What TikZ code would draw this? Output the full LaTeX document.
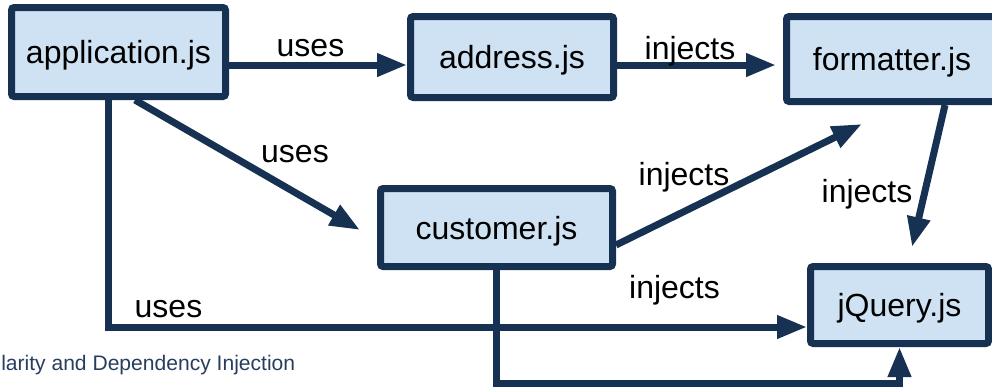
\documentclass[tikz,border=0pt]{standalone}
\usepackage{fontspec}
\setmainfont{Liberation Sans}
\usetikzlibrary{arrows.meta,calc}
\definecolor{navy}{RGB}{22,49,82}
\definecolor{boxfill}{RGB}{207,226,243}
\definecolor{foot}{RGB}{40,62,95}
\tikzset{
  modbox/.style={draw=navy, fill=boxfill, line width=5.25pt, rounded corners=2pt,
    inner sep=0pt, text height=17.5pt, text depth=0pt,
    font=\fontsize{24}{28}\selectfont, text=black},
  conn/.style={draw=navy, line width=5.25pt, -{Triangle[length=22.5pt,width=16.5pt]}},
  lbl/.style={font=\fontsize{24}{28}\selectfont, text=black, anchor=base, inner sep=0pt},
}
\begin{document}
\begin{tikzpicture}[x=0.75pt,y=-0.75pt]
\useasboundingbox (0,0) rectangle (992,387);
\clip (0,0) rectangle (992,387);
% boxes
\node[modbox, minimum width=160.5pt, minimum height=66.75pt] (app) at (118.5,52) {application.js};
\node[modbox, minimum width=152.25pt, minimum height=60.75pt] (addr) at (512,57) {address.js};
\node[modbox, minimum width=158.25pt, minimum height=63.75pt] (fmt) at (892,59) {formatter.js};
\node[modbox, minimum width=174pt, minimum height=58.5pt] (cust) at (496.5,227.5) {customer.js};
\node[modbox, minimum width=133.5pt, minimum height=57.75pt] (jq) at (899.5,305) {jQuery.js};
% free ends
\coordinate (t1) at ($(cust.west)+(-17,2.5)$);
\coordinate (t2) at ($(fmt.south west)+(79,19)$);
\coordinate (t3) at ($(jq.north)+(12.5,-16)$);
% connectors
\draw[conn] (app.east |- 0,65) -- (addr.west |- 0,65);
\draw[conn] (addr.east |- 0,65) -- ($(fmt.west |- 0,65)+(-7,0)$);
\draw[conn] ($(app.south)+(16.5,0)$) -- (t1);
\draw[conn] (cust.east |- 0,245) -- (t2);
\draw[conn] ($(fmt.south)+(53,0)$) -- (t3);
\draw[conn] (app.south -| 108.5,0) |- (jq.west |- 0,327);
\draw[conn] (cust.south) -- (cust.south |- 0,383) -| (jq.south);
% labels
\node[lbl] (l1) at (310.5,56) {uses};
\node[lbl] (l2) at (690,59) {injects};
\node[lbl] (l3) at (295,162) {uses};
\node[lbl] (l4) at (684,185) {injects};
\node[lbl] (l5) at (867,202) {injects};
\node[lbl] (l6) at (674.5,298) {injects};
\node[lbl] (l7) at (168.5,317) {uses};
\node[font=\fontsize{15.8}{18}\selectfont, text=foot, anchor=base west, inner sep=0pt] (foot) at (1,370) {larity and Dependency Injection};
\end{tikzpicture}
\end{document}
